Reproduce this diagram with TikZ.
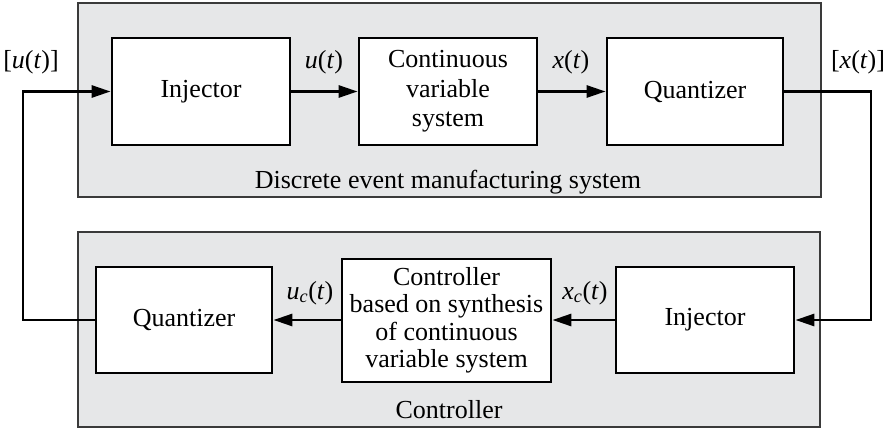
\documentclass[tikz,border=0pt]{standalone}
\usepackage{fontspec}
\setmainfont{Liberation Serif}
\usetikzlibrary{arrows.meta}
\definecolor{panelfill}{HTML}{E6E7E8}
\definecolor{paneldraw}{HTML}{3A3A3A}
\begin{document}
\begin{tikzpicture}[x=1pt,y=-1pt,
  panel/.style={draw=paneldraw,fill=panelfill,line width=1.2pt},
  blk/.style={draw=black,fill=white,line width=2.8pt,inner sep=0pt,align=center,font=\fontsize{26}{28}\selectfont},
  arr/.style={line width=2.8pt,-{Triangle[length=19pt,width=12pt]}},
  lbl/.style={font=\fontsize{26}{28}\selectfont,inner sep=0pt},
  ptitle/.style={font=\fontsize{26}{28}\selectfont,inner sep=0pt}]
\useasboundingbox (0,0) rectangle (891,431);
% panels
\draw[panel] (78,3) rectangle (821,197);
\draw[panel] (78,232) rectangle (820,427);
\node[ptitle] (t1) at (448,182) {Discrete event manufacturing system};
\node[ptitle] (t2) at (449,410) {Controller};
% top blocks
\node[blk,minimum width=178pt,minimum height=107pt] (inj1) at (201,91.5) {Injector};
\node[blk,minimum width=178pt,minimum height=107pt,font=\fontsize{26}{29.5}\selectfont] (cvs) at (448,91.5) {Continuous\\variable\\system};
\node[blk,minimum width=176pt,minimum height=107pt] (q1) at (695,91.5) {Quantizer};
% bottom blocks
\node[blk,minimum width=176pt,minimum height=106pt] (q2) at (184,320) {Quantizer};
\node[blk,minimum width=209pt,minimum height=123pt,font=\fontsize{26}{27.5}\selectfont] (ctl) at (446.5,320.5) {Controller\\based on synthesis\\of continuous\\variable system};
\node[blk,minimum width=178pt,minimum height=106pt] (inj2) at (705,320) {Injector};
% guide coordinates
\coordinate (rx) at (871,0);
\coordinate (lx) at (23,0);
% connectors
\draw[arr] (inj1.east) -- (cvs.west);
\draw[arr] (cvs.east) -- (q1.west);
\draw[arr] (q1.east) -- (q1.east -| rx) |- (inj2.east);
\draw[arr] (inj2.west) -- (inj2.west -| ctl.east);
\draw[arr] (q2.east -| ctl.west) -- (q2.east);
\draw[arr] (q2.west) -- (q2.west -| lx) |- (inj1.west);
% labels
\node[lbl] (lu) at (31,62) {[\textit{u}(\textit{t})]};
\node[lbl] (u) at (324,62) {\textit{u}(\textit{t})};
\node[lbl] (x) at (571,62) {\textit{x}(\textit{t})};
\node[lbl] (lx2) at (858,62) {[\textit{x}(\textit{t})]};
\node[lbl] (uc) at (310,293) {\textit{u}\textsubscript{\textit{c}}(\textit{t})};
\node[lbl] (xc) at (585,293) {\textit{x}\textsubscript{\textit{c}}(\textit{t})};
\end{tikzpicture}
\end{document}
